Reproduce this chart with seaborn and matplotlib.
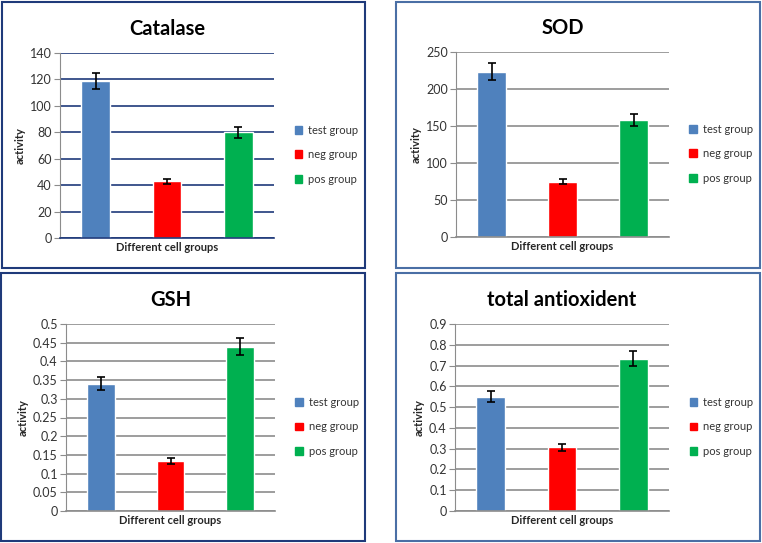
import matplotlib
matplotlib.use("Agg")
import matplotlib.pyplot as plt
from matplotlib.patches import Rectangle
import pandas as pd
import seaborn as sns

# group names and colours
groups = ["test group", "neg group", "pos group"]
colors = ["#4f81bd", "#ff0000", "#00b050"]

# means and error bars
catalase = [118.5, 43, 80]
catalase_err = [6, 2, 4]
sod = [223.5, 74.5, 158.5]
sod_err = [12, 3.5, 8]
gsh = [0.34, 0.1335, 0.4395]
gsh_err = [0.017, 0.007, 0.022]
total = [0.551, 0.307, 0.733]
total_err = [0.028, 0.016, 0.037]

panels = [
    ("Catalase", catalase, catalase_err, [0, 20, 40, 60, 80, 100, 120, 140], ["0", "20", "40", "60", "80", "100", "120", "140"]),
    ("SOD", sod, sod_err, [0, 50, 100, 150, 200, 250], ["0", "50", "100", "150", "200", "250"]),
    ("GSH", gsh, gsh_err, [0, 0.05, 0.1, 0.15, 0.2, 0.25, 0.3, 0.35, 0.4, 0.45, 0.5],
     ["0", "0.05", "0.1", "0.15", "0.2", "0.25", "0.3", "0.35", "0.4", "0.45", "0.5"]),
    ("total antioxident", total, total_err, [0, 0.1, 0.2, 0.3, 0.4, 0.5, 0.6, 0.7, 0.8, 0.9],
     ["0", "0.1", "0.2", "0.3", "0.4", "0.5", "0.6", "0.7", "0.8", "0.9"]),
]

W, H = 762, 543
# axes boxes in pixels (left, top, right, bottom)
ax_boxes = [(60, 53, 274, 238), (456, 52, 669, 237), (66, 324, 275, 511), (455, 324, 669, 511)]
# panel frames in pixels
frames = [(2, 2, 365, 268), (396, 2, 760, 268), (1, 273, 365, 541), (396, 273, 760, 541)]
frame_colors = ["#1f3a7a", "#4a6fa5", "#1f3a7a", "#4a6fa5"]
grid_colors = ["#1f3a7a", "#8c8c8c", "#8c8c8c", "#8c8c8c"]

sns.set_style("white")
plt.rcParams["font.family"] = ["Lato", "DejaVu Sans"]

fig = plt.figure(figsize=(W / 100, H / 100), dpi=100)

for (x0, y0, x1, y1), fc in zip(frames, frame_colors):
    fig.patches.append(Rectangle((x0 / W, 1 - y1 / H), (x1 - x0) / W, (y1 - y0) / H,
                                 transform=fig.transFigure, fill=False,
                                 edgecolor=fc, linewidth=1.5))

for i, (title, vals, errs, ticks, labels) in enumerate(panels):
    l, t, r, b = ax_boxes[i]
    ax = fig.add_axes([l / W, 1 - b / H, (r - l) / W, (b - t) / H])
    df = pd.DataFrame({"group": groups, "value": vals})
    sns.barplot(data=df, x="group", y="value", hue="group", palette=colors,
                width=0.4, ax=ax, legend=False, errorbar=None, saturation=1)
    ax.errorbar(range(3), vals, yerr=errs, fmt="none", ecolor="black",
                elinewidth=1.2, capsize=3, capthick=1.2)
    ax.set_xlim(-0.5, 2.5)
    ax.set_ylim(ticks[0], ticks[-1])
    ax.set_yticks(ticks)
    ax.set_yticklabels(labels, fontsize=9, color="#333333")
    ax.set_xticks([])
    ax.set_xlabel("Different cell groups", fontsize=8, fontweight="bold", labelpad=3)
    ax.set_ylabel("activity", fontsize=8, fontweight="bold", labelpad=3)
    ax.yaxis.grid(True, color=grid_colors[i], linewidth=1.2)
    ax.set_axisbelow(True)
    for s in ["top", "right"]:
        ax.spines[s].set_visible(False)
    ax.spines["left"].set_color("#8c8c8c")
    ax.spines["bottom"].set_color(grid_colors[i])
    ax.spines["bottom"].set_linewidth(1.2)
    ax.tick_params(axis="y", length=4, color="#8c8c8c", left=True, pad=2)
    ax.set_title(title, fontsize=14.5, fontweight="bold", pad=13, color="black")
    handles = [Rectangle((0, 0), 1, 1, color=c) for c in colors]
    ax.legend(handles, groups, loc="center left", bbox_to_anchor=(1.07, 0.45),
              frameon=False, fontsize=8, handlelength=0.7, handleheight=0.7,
              handletextpad=0.5, labelspacing=1.2, labelcolor="#333333", borderpad=0)

fig.savefig("out.png", dpi=100)
